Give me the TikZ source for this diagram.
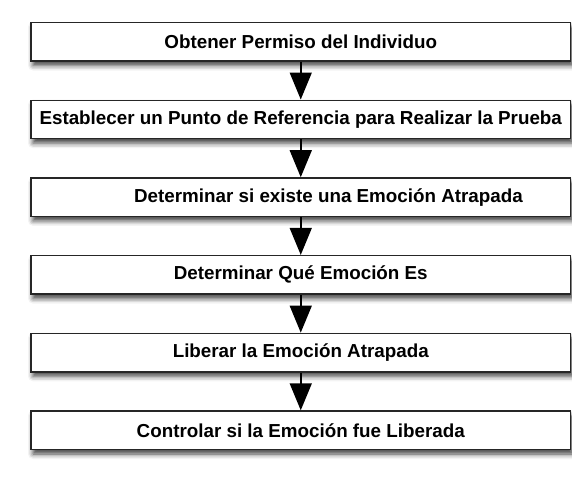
\documentclass[tikz,border=0pt]{standalone}
\usepackage{fontspec}
\setmainfont{Liberation Sans}
\usetikzlibrary{arrows.meta,shadows.blur}
\tikzset{
  stepbox/.style={draw=black!85, line width=1.4pt, fill=white,
    minimum width=539.5pt, minimum height=38.5pt, inner sep=0pt,
    font=\bfseries\fontsize{18.8}{22}\selectfont,
    blur shadow={shadow xshift=2pt, shadow yshift=-4.5pt, shadow blur radius=5pt, shadow opacity=75}},
  lbl/.style={inner sep=0pt, font=\bfseries\fontsize{18.8}{22}\selectfont},
  flow/.style={line width=1.5pt, -{Triangle[width=22pt,length=27pt]}}
}
\begin{document}
\begin{tikzpicture}[x=1pt,y=-1pt]
\useasboundingbox (0,0) rectangle (572,485);
\node[stepbox] (b1) at (300.75,41.75) {Obtener Permiso del Individuo};
\node[stepbox] (b2) at (300.75,119.45) {Establecer un Punto de Referencia para Realizar la Prueba};
\node[stepbox] (b3) at (300.75,197.15) {};
\node[lbl] (t3) at (328.5,197.15) {Determinar si existe una Emoción Atrapada};
\node[stepbox] (b4) at (300.75,274.85) {Determinar Qué Emoción Es};
\node[stepbox] (b5) at (300.75,352.55) {Liberar la Emoción Atrapada};
\node[stepbox] (b6) at (300.75,430.25) {Controlar si la Emoción fue Liberada};
\draw[flow] (b1.south) -- (b2.north);
\draw[flow] (b2.south) -- (b3.north);
\draw[flow] (b3.south) -- (b4.north);
\draw[flow] (b4.south) -- (b5.north);
\draw[flow] (b5.south) -- (b6.north);
\end{tikzpicture}
\end{document}
